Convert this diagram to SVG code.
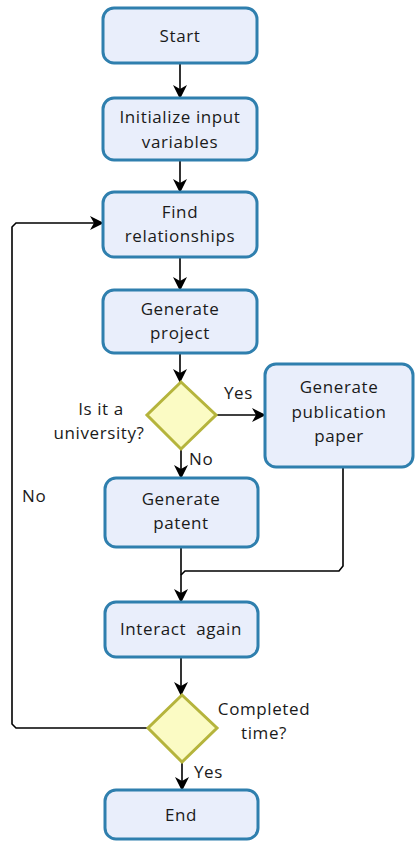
<svg xmlns="http://www.w3.org/2000/svg" width="415" height="841" viewBox="0 0 415 841">
<defs>
<marker id="ah" viewBox="0 0 14 14" refX="13" refY="7" markerWidth="14" markerHeight="14" markerUnits="userSpaceOnUse" orient="auto">
<path d="M0,0 L14,7 L0,14 L4,7 Z" fill="#000"/>
</marker>
<style>
.box{fill:#e9eefb;stroke:#2f7fae;stroke-width:3}
.dia{fill:#fbfbc4;stroke:#b5b43c;stroke-width:3}
.t{font-family:"Open Sans","DejaVu Sans",sans-serif;font-size:17px;letter-spacing:0.6px;fill:#1a1a1a;text-anchor:middle;white-space:pre}
.l{font-family:"Open Sans","DejaVu Sans",sans-serif;font-size:17px;letter-spacing:0.6px;fill:#1a1a1a}
.c{fill:none;stroke:#000;stroke-width:1.6}
</style>
</defs>
<rect width="415" height="841" fill="#fff"/>
<g id="connectors">
<line class="c" x1="180" y1="63" x2="180" y2="98" marker-end="url(#ah)"/>
<line class="c" x1="180" y1="160" x2="180" y2="192" marker-end="url(#ah)"/>
<line class="c" x1="180" y1="257" x2="180" y2="290" marker-end="url(#ah)"/>
<line class="c" x1="180" y1="353" x2="180" y2="382" marker-end="url(#ah)"/>
<line class="c" x1="181" y1="449" x2="181" y2="478" marker-end="url(#ah)"/>
<line class="c" x1="216" y1="415" x2="265" y2="415" marker-end="url(#ah)"/>
<line class="c" x1="181" y1="547" x2="181" y2="602" marker-end="url(#ah)"/>
<path class="c" d="M343,467 L343,566 L339,571 L185,571 L181,575"/>
<line class="c" x1="181" y1="657" x2="181" y2="695" marker-end="url(#ah)"/>
<line class="c" x1="182" y1="762" x2="182" y2="790" marker-end="url(#ah)"/>
<path class="c" d="M148,728 L16,728 L12,724 L12,227 L16,223 L103,223" marker-end="url(#ah)"/>
</g>
<g id="start"><rect class="box" x="103" y="8" width="154" height="55" rx="11"/><text class="t" x="180" y="42">Start</text></g>
<g id="init"><rect class="box" x="103" y="98" width="154" height="62" rx="11"/><text class="t" x="180" y="123">Initialize input</text><text class="t" x="180" y="148">variables</text></g>
<g id="find"><rect class="box" x="103" y="192" width="154" height="65" rx="11"/><text class="t" x="180" y="218">Find</text><text class="t" x="180" y="242">relationships</text></g>
<g id="project"><rect class="box" x="103" y="290" width="154" height="63" rx="11"/><text class="t" x="180" y="315">Generate</text><text class="t" x="180" y="339">project</text></g>
<g id="dec1"><path class="dia" d="M181,382 L216,415 L181,449 L147,415 Z"/><text class="t" x="101" y="415">Is it a</text><text class="t" x="99" y="439">university?</text><text class="l" x="224" y="399">Yes</text><text class="l" x="189" y="465">No</text></g>
<g id="paper"><rect class="box" x="265" y="364" width="148" height="103" rx="11"/><text class="t" x="339" y="393">Generate</text><text class="t" x="339" y="418">publication</text><text class="t" x="339" y="442">paper</text></g>
<g id="patent"><rect class="box" x="105" y="478" width="153" height="69" rx="11"/><text class="t" x="181" y="505">Generate</text><text class="t" x="181" y="529">patent</text></g>
<g id="interact"><rect class="box" x="105" y="602" width="153" height="55" rx="11"/><text class="t" x="181" y="635">Interact  again</text></g>
<g id="dec2"><path class="dia" d="M182,695 L217,728 L182,762 L148,728 Z"/><text class="t" x="264" y="715">Completed</text><text class="t" x="264" y="739">time?</text><text class="l" x="194" y="778">Yes</text><text class="l" x="22" y="502">No</text></g>
<g id="end"><rect class="box" x="105" y="790" width="153" height="49" rx="11"/><text class="t" x="181" y="821">End</text></g>
</svg>
